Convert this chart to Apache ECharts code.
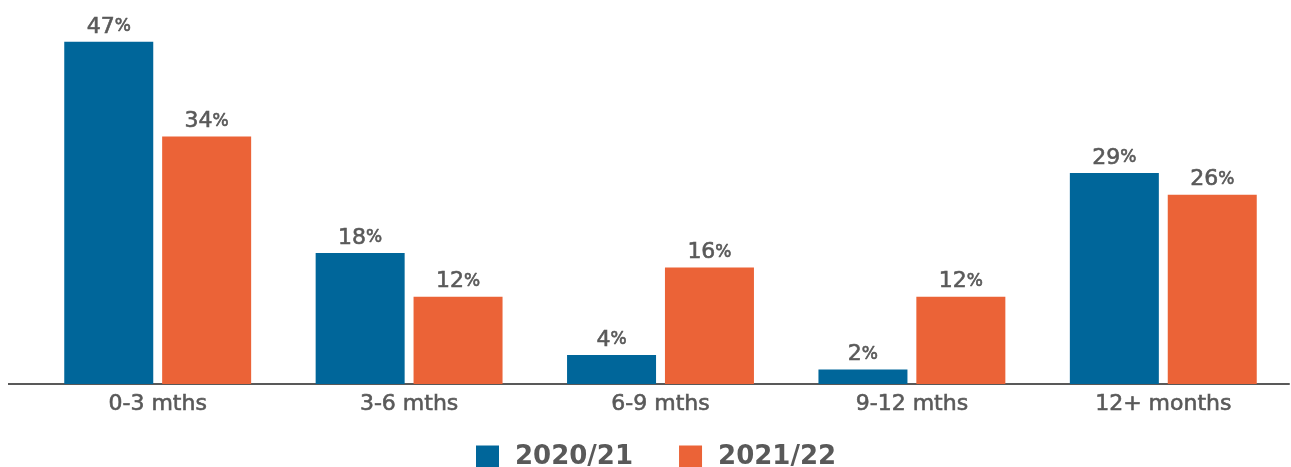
<!DOCTYPE html>
<html>
<head>
<meta charset="utf-8">
<script src="https://cdn.jsdelivr.net/npm/echarts@6/dist/echarts.min.js"></script>
<style>
  html, body { margin: 0; padding: 0; background: #ffffff; }
  #chart { width: 1291px; height: 467px; }
</style>
</head>
<body>
<div id="chart"></div>
<script>
// Time bands and the share of cases falling into each one
const categories = ['0-3 mths', '3-6 mths', '6-9 mths', '9-12 mths', '12+ months'];
const seriesNames = ['2020/21', '2021/22'];
const values2020 = [47, 18, 4, 2, 29];
const values2021 = [34, 12, 16, 12, 26];

const BLUE = '#00669A';
const ORANGE = '#EB6337';
const GREY = '#595959';
const FONT = 'DejaVu Sans';

const chart = echarts.init(document.getElementById('chart'), null, { renderer: 'canvas' });

// a thin outline in the text colour gives the labels a medium weight
const medium = { textBorderColor: GREY, textBorderWidth: 0.6 };

const valueLabel = {
  show: true,
  position: 'top',
  distance: 4,
  formatter: p => '{n|' + p.value + '}{p|%}',
  rich: {
    n: Object.assign({ fontFamily: FONT, fontSize: 22, color: GREY }, medium),
    p: Object.assign({ fontFamily: FONT, fontSize: 17, color: GREY }, medium)
  }
};

chart.setOption({
  animation: false,
  backgroundColor: '#ffffff',
  grid: { left: 32, right: 2, top: 20, bottom: 83 },
  legend: {
    data: seriesNames,
    left: 476,
    top: 444,
    padding: 0,
    itemWidth: 23,
    itemHeight: 23,
    itemGap: 46,
    icon: 'rect',
    textStyle: {
      fontFamily: FONT, fontSize: 26, fontWeight: 'bold', color: GREY,
      padding: [0, 0, 0, 11]
    }
  },
  xAxis: {
    type: 'category',
    data: categories,
    axisTick: { show: false },
    axisLine: { lineStyle: { color: GREY, width: 2 } },
    axisLabel: Object.assign({ fontFamily: FONT, fontSize: 22, color: GREY, margin: 9 }, medium)
  },
  yAxis: {
    type: 'value',
    min: 0,
    max: 50,
    show: false,
    splitLine: { show: false }
  },
  series: [
    {
      name: seriesNames[0], type: 'bar', data: values2020,
      barWidth: 89, barGap: '10%',
      itemStyle: { color: BLUE },
      label: valueLabel
    },
    {
      name: seriesNames[1], type: 'bar', data: values2021,
      barWidth: 89, barGap: '10%',
      itemStyle: { color: ORANGE },
      label: valueLabel
    }
  ],
  graphic: [
    {
      // extend the baseline to the left edge of the plot
      type: 'line',
      shape: { x1: 8, y1: 384, x2: 33, y2: 384 },
      style: { stroke: GREY, lineWidth: 2 }
    }
  ]
});
</script>
</body>
</html>
